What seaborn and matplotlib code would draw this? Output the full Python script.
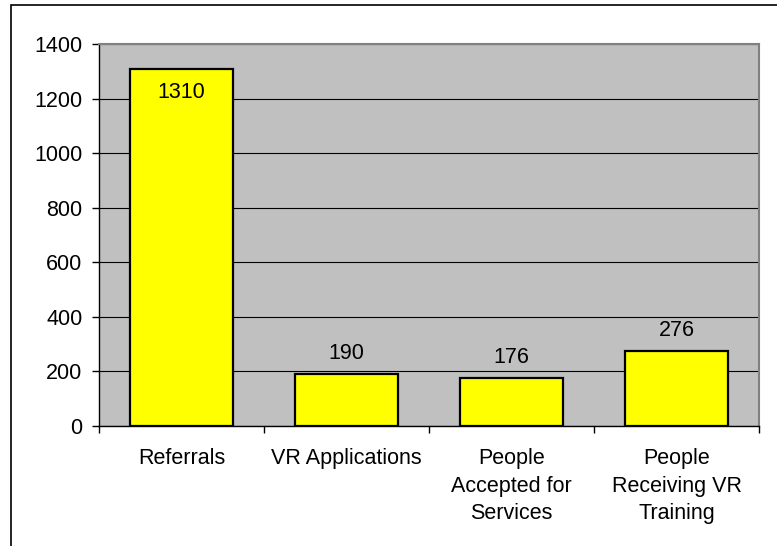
import matplotlib
matplotlib.use("Agg")
import matplotlib.pyplot as plt
import matplotlib.patches as mpatches
import pandas as pd
import seaborn as sns

categories = ["Referrals", "VR Applications", "People\nAccepted for\nServices",
              "People\nReceiving VR\nTraining"]
counts = [1310, 190, 176, 276]
yticks = [0, 200, 400, 600, 800, 1000, 1200, 1400]

df = pd.DataFrame({"category": categories, "count": counts})

sns.set_theme(style="white", rc={"text.color": "black", "xtick.color": "black",
                                 "ytick.color": "black"})
plt.rcParams["font.family"] = ["Liberation Sans", "DejaVu Sans"]
fs = 15.5

fig = plt.figure(figsize=(7.77, 5.46), dpi=100)
ax = fig.add_axes([99 / 777, 1 - 426 / 546, 660 / 777, 382 / 546])
ax.set_facecolor("#C0C0C0")

sns.barplot(data=df, x="category", y="count", color="#FFFF00", saturation=1,
            edgecolor="black", linewidth=1.6, width=0.63, ax=ax, zorder=3)

ax.set_ylim(0, 1400)
ax.set_xlim(-0.5, len(categories) - 0.5)
ax.set_yticks(yticks)
ax.yaxis.grid(True, color="black", linewidth=0.8, zorder=0)
ax.set_axisbelow(True)
ax.set_xlabel("")
ax.set_ylabel("")

# category boundaries as major ticks, labels on minor ticks
ax.set_xticks([i - 0.5 for i in range(len(categories) + 1)])
ax.set_xticklabels([""] * (len(categories) + 1))
ax.set_xticks(range(len(categories)), minor=True)
ax.set_xticklabels(categories, minor=True, fontsize=fs, linespacing=1.4)
ax.tick_params(axis="x", which="major", direction="out", length=5, width=1,
               color="black", bottom=True)
ax.tick_params(axis="x", which="minor", length=0, pad=16, bottom=True,
               labelcolor="black")
ax.tick_params(axis="y", direction="out", length=5, width=1, color="black",
               labelsize=fs, pad=7, left=True, labelcolor="black")

for s in ["left", "bottom"]:
    ax.spines[s].set_color("black")
    ax.spines[s].set_linewidth(1)
for s in ["top", "right"]:
    ax.spines[s].set_color("#808080")
    ax.spines[s].set_linewidth(1.5)

for i, v in enumerate(counts):
    if v > 1000:
        ax.annotate(str(v), (i, v), xytext=(0, -10), textcoords="offset points",
                    ha="center", va="top", fontsize=fs, color="black", zorder=4)
    else:
        ax.annotate(str(v), (i, v), xytext=(0, 7), textcoords="offset points",
                    ha="center", va="bottom", fontsize=fs, color="black", zorder=4)

# outer chart border
fig.patches.append(mpatches.Rectangle((11 / 777, -0.05), 1.0, 1 - 5 / 546 + 0.05,
                                      transform=fig.transFigure, fill=False,
                                      edgecolor="black", linewidth=1.2))

fig.savefig("out.png", dpi=100)
